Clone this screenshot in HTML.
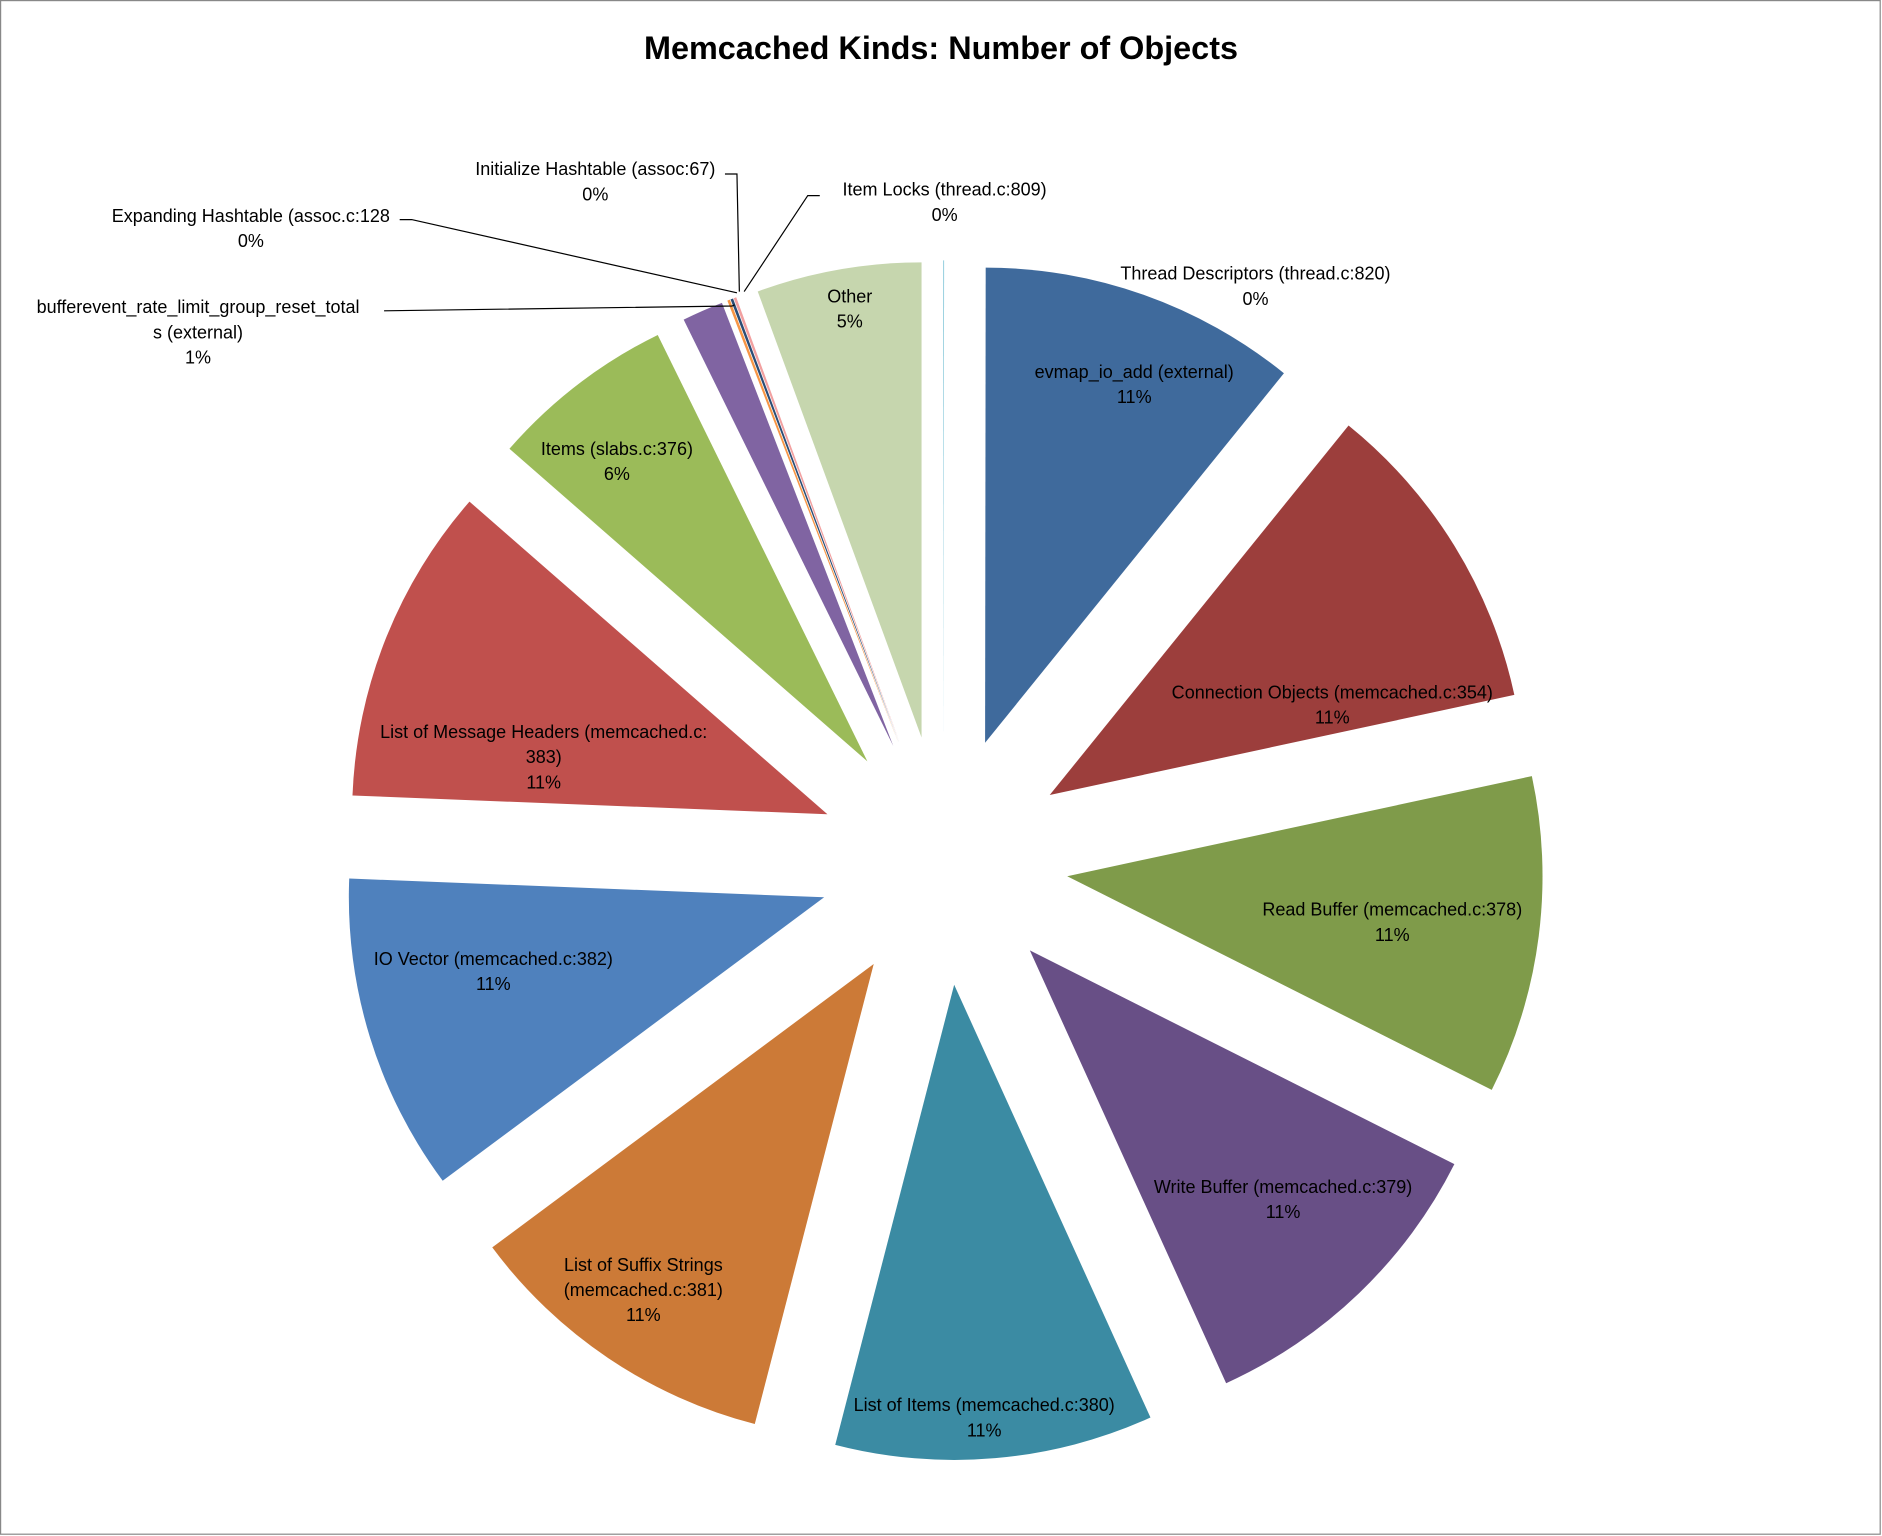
<!DOCTYPE html>
<html><head><meta charset="utf-8"><style>
html,body{margin:0;padding:0;background:#fff}
svg{display:block}
text{font-family:"Liberation Sans",sans-serif;fill:#000}
</style></head><body>
<svg width="1882" height="1536" viewBox="0 0 1568 1280" preserveAspectRatio="none" xmlns="http://www.w3.org/2000/svg">
<rect x="0.5" y="0.5" width="1566" height="1278" fill="#fff" stroke="#888" stroke-width="1"/>
<text x="784" y="49" text-anchor="middle" font-size="27" font-weight="bold">Memcached Kinds: Number of Objects</text>
<g id="slices"></g>
<g id="leaders" fill="none" stroke="#000" stroke-width="1">
<polyline points="320,259 610,255 612,254"/>
<polyline points="333,183 343,183 614,244"/>
<polyline points="604,145 614,145 616,243"/>
<polyline points="683,163 673,163 620,243"/>
</g>
<g id="labels" font-size="15" text-anchor="middle"></g>
</svg>
<script>
const categories=["Thread Descriptors (thread.c:820)","evmap_io_add (external)","Connection Objects (memcached.c:354)","Read Buffer (memcached.c:378)","Write Buffer (memcached.c:379)","List of Items (memcached.c:380)","List of Suffix Strings (memcached.c:381)","IO Vector (memcached.c:382)","List of Message Headers (memcached.c:383)","Items (slabs.c:376)","bufferevent_rate_limit_group_reset_totals (external)","Expanding Hashtable (assoc.c:128","Initialize Hashtable (assoc:67)","Item Locks (thread.c:809)","Other"];
const values=[0.02,10.8,10.8,10.8,10.8,10.8,10.8,10.8,10.8,6.3,1.4,0.09,0.09,0.09,5.6];
const percentLabels=["0%","11%","11%","11%","11%","11%","11%","11%","11%","6%","1%","0%","0%","0%","5%"];
const colors=["#4BACC6","#3F6A9C","#9C3E3C","#7F9B4A","#684F86","#3B8BA3","#CC7A37","#4F81BD","#C0504D","#9BBB59","#8064A2","#F79646","#2C4D75","#F2A0A0","#C6D6AE"];
const labelLines=[["Thread Descriptors (thread.c:820)","0%"],["evmap_io_add (external)","11%"],["Connection Objects (memcached.c:354)","11%"],["Read Buffer (memcached.c:378)","11%"],["Write Buffer (memcached.c:379)","11%"],["List of Items (memcached.c:380)","11%"],["List of Suffix Strings","(memcached.c:381)","11%"],["IO Vector (memcached.c:382)","11%"],["List of Message Headers (memcached.c:","383)","11%"],["Items (slabs.c:376)","6%"],["bufferevent_rate_limit_group_reset_total","s (external)","1%"],["Expanding Hashtable (assoc.c:128","0%"],["Initialize Hashtable (assoc:67)","0%"],["Item Locks (thread.c:809)","0%"],["Other","5%"]];
const labelPos=[[1046,228],[945,310],[1110,577],[1160,758],[1069,989],[820,1171],[536,1054],[411,799],[453,610],[514,374],[165,256],[209,180],[496,141],[787,158],[708,247]];
const cx=786,cy=717,R=396,EXP=104;
const NS="http://www.w3.org/2000/svg";
const total=values.reduce((a,b)=>a+b,0);
function pt(a,r,ox,oy){return [ox+r*Math.sin(a),oy-r*Math.cos(a)];}
let acc=0;
const gS=document.getElementById('slices'),gL=document.getElementById('labels');
values.forEach((v,i)=>{
  const a0=acc/total*2*Math.PI;acc+=v;const a1=acc/total*2*Math.PI;
  const m=(a0+a1)/2;
  const ox=cx+EXP*Math.sin(m),oy=cy-EXP*Math.cos(m);
  const p0=pt(a0,R,ox,oy),p1=pt(a1,R,ox,oy);
  const large=(a1-a0)>Math.PI?1:0;
  const p=document.createElementNS(NS,'path');
  p.setAttribute('d',`M${ox},${oy} L${p0[0]},${p0[1]} A${R},${R} 0 ${large} 1 ${p1[0]},${p1[1]} Z`);
  p.setAttribute('fill',colors[i]);
  
  
  gS.appendChild(p);
});
labelLines.forEach((lines,i)=>{
  const t=document.createElementNS(NS,'text');
  
  
  lines.forEach((s,k)=>{
    const ts=document.createElementNS(NS,'tspan');
    ts.setAttribute('x',labelPos[i][0]);
    ts.setAttribute('y',labelPos[i][1]+5+k*21);
    ts.textContent=s;
    t.appendChild(ts);
  });
  gL.appendChild(t);
});
</script>
</body></html>
